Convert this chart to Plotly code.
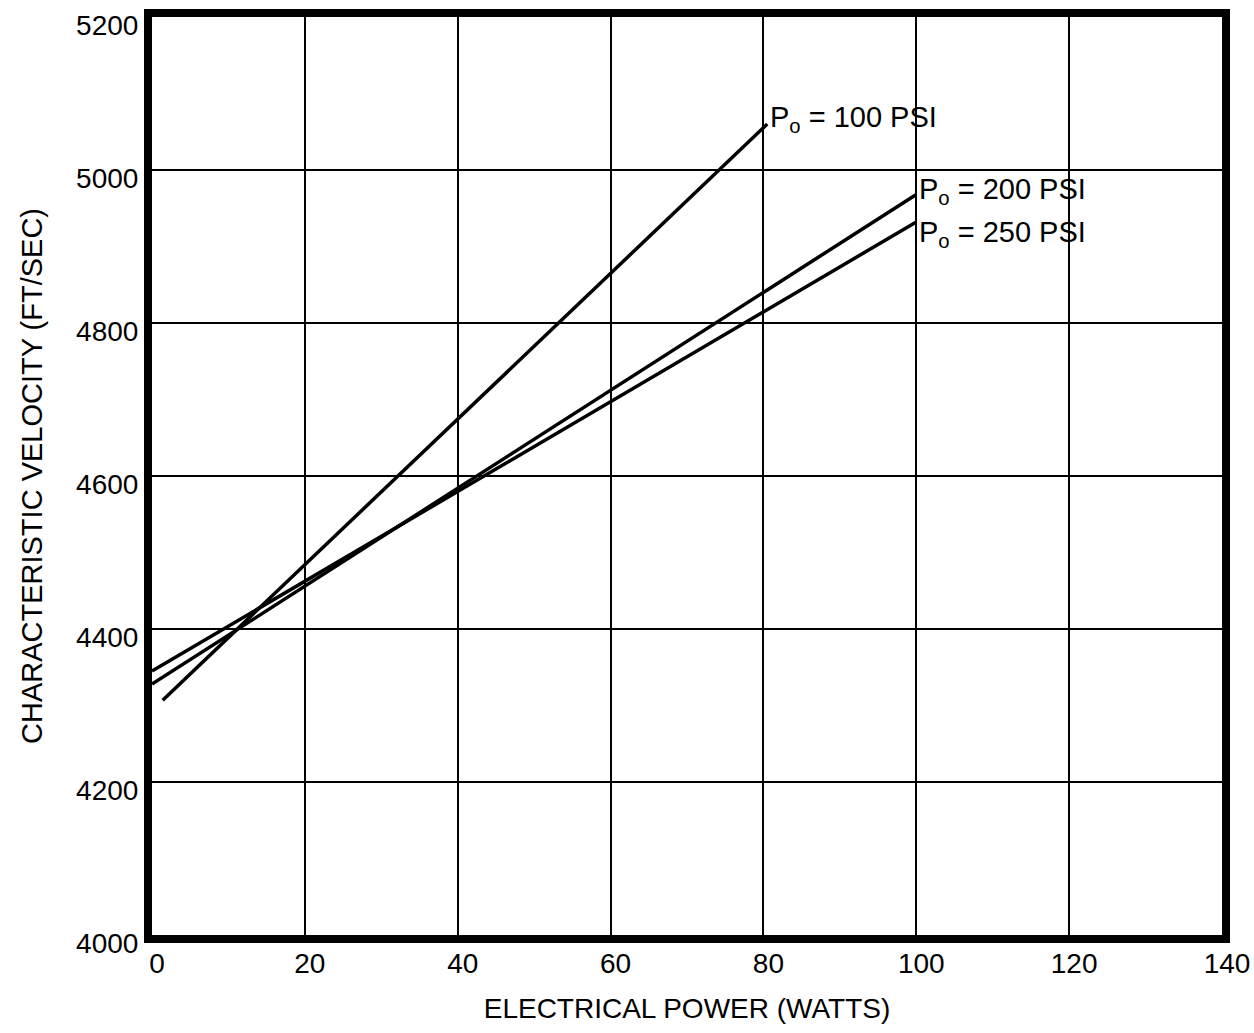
import plotly.graph_objects as go

# Data
power_100 = [1.4, 80.5]
cstar_100 = [4307, 5060]
power_200 = [0, 100]
cstar_200 = [4328, 4968]
power_250 = [0, 100]
cstar_250 = [4345, 4932]

x_ticks = [0, 20, 40, 60, 80, 100, 120, 140]
y_ticks = [4000, 4200, 4400, 4600, 4800, 5000, 5200]

labels = ["P<sub>o</sub> = 100 PSI", "P<sub>o</sub> = 200 PSI", "P<sub>o</sub> = 250 PSI"]

FONT = "Liberation Sans"

fig = go.Figure()
for xs, ys in [(power_100, cstar_100), (power_200, cstar_200), (power_250, cstar_250)]:
    fig.add_trace(go.Scatter(x=xs, y=ys, mode="lines",
                             line=dict(color="black", width=3.5), showlegend=False))

# labels at the line ends
label_pos = [(power_100[-1], cstar_100[-1]), (power_200[-1], cstar_200[-1]), (power_250[-1], cstar_250[-1])]
label_yshift = [-15, -17, -32]
for (lx, ly), txt, ys in zip(label_pos, labels, label_yshift):
    fig.add_annotation(x=lx, y=ly, text=txt, showarrow=False,
                       xanchor="left", yanchor="bottom", xshift=1, yshift=ys,
                       font=dict(family=FONT, size=29, color="black"))

axis_common = dict(showgrid=True, gridcolor="black", gridwidth=1.5,
                   showline=True, linecolor="black", linewidth=8, mirror=True,
                   zeroline=False, ticks="", automargin=False,
                   tickfont=dict(family=FONT, size=28, color="black"))

fig.update_xaxes(range=[0, 140], tickvals=x_ticks, ticktext=[str(v) for v in x_ticks],
                 ticklabelshift=5, ticklabelstandoff=-4,
                 title=dict(text="ELECTRICAL POWER (WATTS)", standoff=24,
                            font=dict(family=FONT, size=28, color="black")),
                 **axis_common)
fig.update_yaxes(range=[4000, 5200], tickvals=y_ticks, ticktext=[str(v) for v in y_ticks],
                 ticklabelshift=8, ticklabelstandoff=0,
                 title=dict(text="CHARACTERISTIC VELOCITY (FT/SEC)", standoff=28,
                            font=dict(family=FONT, size=29, color="black")),
                 **axis_common)

fig.update_layout(width=1254, height=1033,
                  margin=dict(l=152, r=32, t=17, b=98),
                  paper_bgcolor="white", plot_bgcolor="white",
                  font=dict(family=FONT, color="black"))

fig.write_html("out.html", config={"displayModeBar": False},
               post_script="document.body.style.margin='0';")
